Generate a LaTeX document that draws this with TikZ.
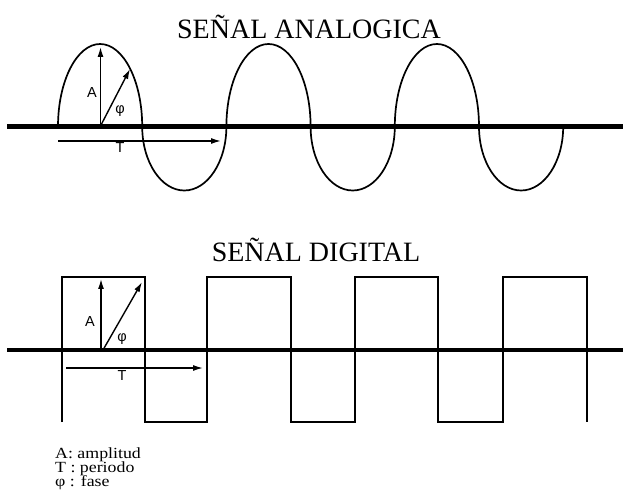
\documentclass[tikz,border=0pt]{standalone}
\usepackage{fontspec}
\usepackage{graphicx}
\setmainfont{Liberation Serif}
\newfontfamily\labfont{Liberation Sans}
\usetikzlibrary{arrows.meta}
\tikzset{
  axisline/.style={line width=4.8pt},
  wave/.style={line width=1.7pt},
  vec/.style={line width=1.4pt,-{Latex[length=10pt,width=6pt]}},
  lab/.style={font=\labfont\fontsize{14.5}{16}\selectfont,inner sep=0pt},
  titlelab/.style={font=\fontsize{28}{32}\selectfont,inner sep=0pt},
  legend/.style={font=\fontsize{15.5}{18}\selectfont,inner sep=0pt,anchor=west}
}
\begin{document}
\begin{tikzpicture}[x=1pt,y=-1pt]
\useasboundingbox[fill=white] (0,0) rectangle (623,502);
% ---------- analog ----------
\node[titlelab] (t1) at (309,27) {SEÑAL ANALOGICA};
\coordinate (a0) at (7,126.5);
\coordinate (a1) at (623,126.5);
\draw[axisline] (a0) -- (a1);
\draw[wave] (58,126.5)
  arc[start angle=180,end angle=360,x radius=42.1,y radius=82.5]
  arc[start angle=180,end angle=0,x radius=42.1,y radius=64]
  arc[start angle=180,end angle=360,x radius=42.1,y radius=82.5]
  arc[start angle=180,end angle=0,x radius=42.1,y radius=64]
  arc[start angle=180,end angle=360,x radius=42.1,y radius=82.5]
  arc[start angle=180,end angle=0,x radius=42.1,y radius=64];
\coordinate (ao) at (100.5,126);
\coordinate (aA) at (100.5,47);
\coordinate (aP) at (130,69);
\draw[vec] (ao) -- (aA);
\draw[vec] (ao) -- (aP);
\node[lab] (lA1) at (92,93) {A};
\node[lab] (lp1) at (120,111) {φ};
\coordinate (aT0) at (58,141);
\coordinate (aT1) at (221,141);
\draw[vec] (aT0) -- (aT1);
\node[lab] (lT1) at (120,148) {T};
% ---------- digital ----------
\node[titlelab] (t2) at (316,250) {SEÑAL DIGITAL};
\coordinate (d0) at (7,350);
\coordinate (d1) at (623,350);
\draw[axisline] (d0) -- (d1);
\draw[wave] (62,422) -- (62,277) -- (145,277) -- (145,422) -- (207,422)
  -- (207,277) -- (291,277) -- (291,422) -- (355,422)
  -- (355,277) -- (438,277) -- (438,422) -- (503,422)
  -- (503,277) -- (587,277) -- (587,422);
\coordinate (do) at (101,350);
\coordinate (dA) at (101,279);
\coordinate (dP) at (142,282);
\draw[vec] (do) -- (dA);
\draw[vec] (103,350) -- (dP);
\node[lab] (lA2) at (90,322) {A};
\node[lab] (lp2) at (122,339) {φ};
\coordinate (dT0) at (66,368);
\coordinate (dT1) at (203,368);
\draw[vec] (dT0) -- (dT1);
\node[lab] (lT2) at (122,376) {T};
% ---------- legend ----------
\node[legend] (g1) at (55,455) {\scalebox{1.15}[1]{A: amplitud}};
\node[legend] (g2) at (55,469) {\scalebox{1.15}[1]{T : periodo}};
\node[legend] (g3) at (55,483) {\scalebox{1.15}[1]{φ : fase}};
\end{tikzpicture}
\end{document}
